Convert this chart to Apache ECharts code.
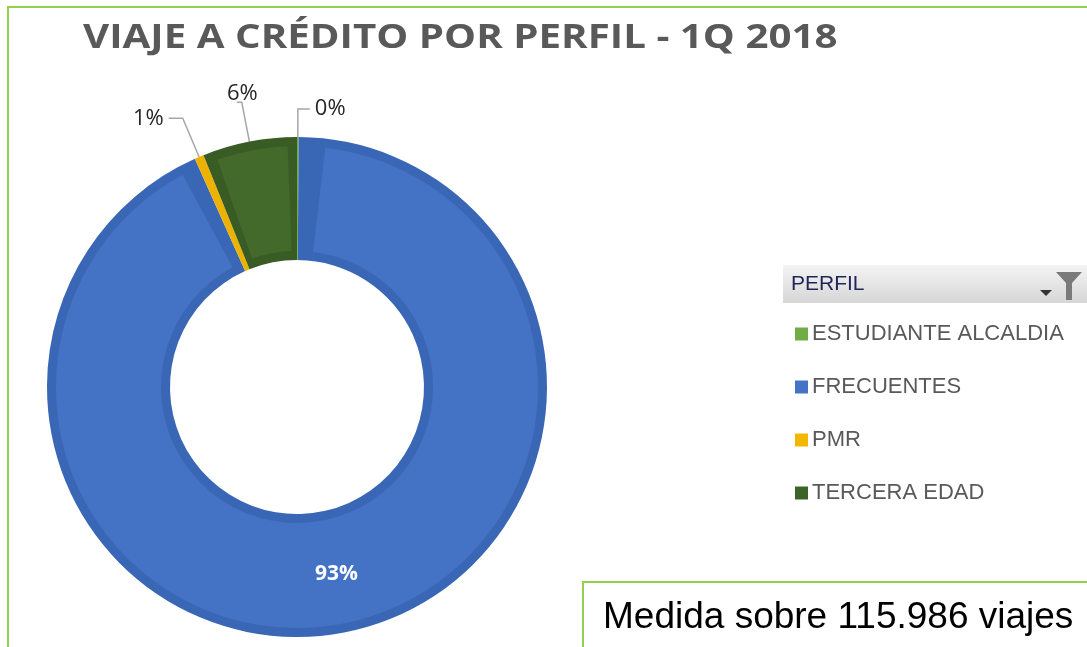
<!DOCTYPE html>
<html>
<head>
<meta charset="utf-8">
<script src="https://cdn.jsdelivr.net/npm/echarts@6/dist/echarts.min.js"></script>
<style>
  html, body { margin: 0; padding: 0; background: #fff; }
  #chart { width: 1087px; height: 647px; }
</style>
</head>
<body>
<div id="chart"></div>
<script>
// datos (viajes por perfil, total 115.986)
const perfiles = ["ESTUDIANTE ALCALDIA", "FRECUENTES", "PMR", "TERCERA EDAD"];
const viajes = [116, 108099, 696, 7075];
const colorLeyenda = ["#70AD47", "#4472C4", "#F2B700", "#3B6526"];
const colorBorde = ["#70AD47", "#3A66B6", "#EDB200", "#385C23"]; // anillo exterior (bisel)
const colorRelleno = ["#70AD47", "#4472C4", "#F2B700", "#43692B"];
// largo de las lineas guia de cada etiqueta
const guiaLargo = [28, 0, 42, 40];
const guiaLargo2 = [12, 0, 14, 5];

const titulo = "VIAJE A CRÉDITO POR PERFIL - 1Q 2018";
const nota = "Medida sobre 115.986 viajes";

let chart = echarts.init(document.getElementById("chart"));

let datosBase = perfiles.map((p, i) => ({
  name: p,
  value: viajes[i],
  itemStyle: { color: colorBorde[i] },
  label: i === 1
    ? { position: "inside", color: "#fff", fontWeight: "bold", fontSize: 21 }
    : {},
  labelLine: { length: guiaLargo[i], length2: guiaLargo2[i] }
}));
let datosRelleno = perfiles.map((p, i) => ({
  name: p,
  value: viajes[i],
  itemStyle: { color: colorRelleno[i] }
}));

let option = {
  animation: false,
  legend: {
    orient: "vertical",
    left: 790,
    top: 318,
    itemWidth: 13,
    itemHeight: 13,
    itemGap: 31,
    icon: "rect",
    selectedMode: false,
    data: perfiles.map((p, i) => ({ name: p, itemStyle: { color: colorLeyenda[i] } })),
    textStyle: {
      fontFamily: "Liberation Sans",
      fontSize: 22,
      lineHeight: 22,
      color: "#595959",
      padding: [0, 0, 0, -1]
    }
  },
  series: [
    {
      type: "pie",
      center: [297, 387],
      radius: [127, 250],
      startAngle: 90,
      clockwise: true,
      avoidLabelOverlap: false,
      silent: true,
      label: {
        show: true,
        position: "outside",
        formatter: p => Math.round(p.percent) + "%",
        fontFamily: "Open Sans",
        fontSize: 22,
        color: "#262626"
      },
      labelLine: {
        show: true,
        lineStyle: { color: "#A6A6A6", width: 1.5 }
      },
      // la etiqueta del 6% va encima del sector, como en el original
      labelLayout: p => (p.dataIndex === 3 ? { dx: 26, dy: -9 } : {}),
      data: datosBase
    },
    {
      type: "pie",
      center: [297, 387],
      radius: [136, 241],
      startAngle: 90,
      clockwise: true,
      padAngle: 4.5,
      silent: true,
      label: { show: false },
      labelLine: { show: false },
      data: datosRelleno
    }
  ],
  graphic: [
    {
      type: "rect",
      shape: { x: 8, y: 7, width: 1200, height: 800 },
      style: { fill: "none", stroke: "#92D050", lineWidth: 2 },
      z: -1
    },
    {
      type: "text",
      x: 83,
      y: 21,
      scaleX: 1.185,
      style: { text: titulo, font: "bold 34px 'Open Sans'", fill: "#595959" }
    },
    {
      type: "rect",
      shape: { x: 783, y: 265, width: 320, height: 38 },
      style: {
        fill: new echarts.graphic.LinearGradient(0, 0, 0, 1, [
          { offset: 0, color: "#F4F4F4" },
          { offset: 1, color: "#D6D6D6" }
        ])
      }
    },
    {
      type: "text",
      x: 791,
      y: 274,
      style: { text: "PERFIL", font: "21px 'Liberation Sans'", fill: "#1F2557" }
    },
    {
      type: "polygon",
      shape: { points: [[1040, 290], [1052, 290], [1046, 296]] },
      style: { fill: "#333" }
    },
    {
      type: "polygon",
      shape: { points: [[1056, 272], [1082, 272], [1072, 283], [1072, 300], [1066, 300], [1066, 283]] },
      style: { fill: "#7A7A7A" }
    },
    {
      type: "rect",
      shape: { x: 583, y: 582, width: 600, height: 100 },
      style: { fill: "#fff", stroke: "#92D050", lineWidth: 2 }
    },
    {
      type: "text",
      x: 603,
      y: 599,
      style: { text: nota, font: "37px 'Liberation Sans'", fill: "#000" }
    }
  ]
};

chart.setOption(option);
</script>
</body>
</html>
